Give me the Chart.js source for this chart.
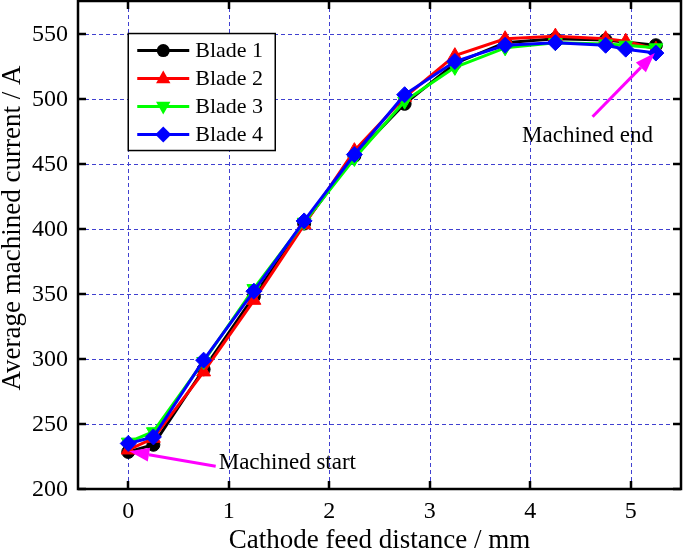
<!DOCTYPE html>
<html>
<head>
<meta charset="utf-8">
<script src="https://cdn.jsdelivr.net/npm/chart.js@4.4.1/dist/chart.umd.min.js"></script>
<style>
html,body{margin:0;padding:0;background:#fff;}
#wrap{width:685px;height:554px;position:relative;}
</style>
</head>
<body>
<div id="wrap"><canvas id="c" width="685" height="554"></canvas></div>
<script>
// ---- data ----
const seriesNames = ["Blade 1", "Blade 2", "Blade 3", "Blade 4"];
const xBlade1 = [0, 0.25, 0.75, 1.25, 1.75, 2.25, 2.75, 3.25, 3.75, 4.25, 4.75, 5.25];
const yBlade1 = [228.5, 234, 292, 348, 404, 456, 496, 527, 543, 546, 545, 541];
const xBlade2 = [0, 0.25, 0.75, 1.25, 1.75, 2.25, 2.75, 3.25, 3.75, 4.25, 4.75, 4.95, 5.25];
const yBlade2 = [230, 239, 290, 345, 403, 460, 501, 533, 546, 548, 546, 544, 538];
const xBlade3 = [0, 0.25, 0.75, 1.25, 1.75, 2.25, 2.75, 3.25, 3.75, 4.25, 4.75, 4.95, 5.25];
const yBlade3 = [236, 244, 298, 354, 405, 454, 498, 524, 539, 543, 542, 541, 539];
const xBlade4 = [0, 0.25, 0.75, 1.25, 1.75, 2.25, 2.75, 3.25, 3.75, 4.25, 4.75, 4.95, 5.25];
const yBlade4 = [235, 240, 299, 352, 406, 457, 503, 528.5, 541, 543, 541, 538, 535];
const xTickValues = [0, 1, 2, 3, 4, 5];
const yTickValues = [200, 250, 300, 350, 400, 450, 500, 550];
const xTitle = "Cathode feed distance / mm";
const yTitle = "Average machined current / A";
const noteStart = "Machined start";
const noteEnd = "Machined end";

// ---- styling ----
const SERIF = "'Liberation Serif','DejaVu Serif',serif";
const colors = ["#000000", "#ff0000", "#00ff00", "#0000ff"];
const styles = [
  {pointStyle: 'circle', radius: 6.5, rotation: 0},
  {pointStyle: 'triangle', radius: 8, rotation: 0},
  {pointStyle: 'triangle', radius: 8, rotation: 180},
  {pointStyle: 'rectRot', radius: 8, rotation: 0}
];
const xs = [xBlade1, xBlade2, xBlade3, xBlade4];
const ys = [yBlade1, yBlade2, yBlade3, yBlade4];

const datasets = seriesNames.map((name, i) => ({
  label: name,
  data: xs[i].map((x, k) => ({x: x, y: ys[i][k]})),
  borderColor: colors[i],
  backgroundColor: colors[i],
  pointBackgroundColor: colors[i],
  pointBorderColor: colors[i],
  borderWidth: 3,
  pointStyle: styles[i].pointStyle,
  pointRadius: styles[i].radius,
  pointRotation: styles[i].rotation,
  pointBorderWidth: 1,
  tension: 0,
  order: 3 - i
}));

function drawMarker(ctx, kind, x, y, r, color) {
  ctx.save();
  ctx.fillStyle = color;
  ctx.beginPath();
  if (kind === 0) {
    ctx.arc(x, y, r, 0, Math.PI * 2);
  } else if (kind === 1) {
    ctx.moveTo(x, y - r); ctx.lineTo(x + r * 0.9, y + r * 0.6); ctx.lineTo(x - r * 0.9, y + r * 0.6);
  } else if (kind === 2) {
    ctx.moveTo(x, y + r); ctx.lineTo(x + r * 0.9, y - r * 0.6); ctx.lineTo(x - r * 0.9, y - r * 0.6);
  } else {
    ctx.moveTo(x, y - r); ctx.lineTo(x + r, y); ctx.lineTo(x, y + r); ctx.lineTo(x - r, y);
  }
  ctx.closePath();
  ctx.fill();
  ctx.restore();
}

function arrow(ctx, x1, y1, x2, y2) {
  const ang = Math.atan2(y2 - y1, x2 - x1);
  const L = 20, W = 7;
  const bx = x2 - L * Math.cos(ang), by = y2 - L * Math.sin(ang);
  ctx.save();
  ctx.strokeStyle = "#ff00ff";
  ctx.fillStyle = "#ff00ff";
  ctx.lineWidth = 3;
  ctx.beginPath(); ctx.moveTo(x1, y1); ctx.lineTo(bx, by); ctx.stroke();
  ctx.beginPath();
  ctx.moveTo(x2, y2);
  ctx.lineTo(bx + W * Math.sin(ang), by - W * Math.cos(ang));
  ctx.lineTo(bx - W * Math.sin(ang), by + W * Math.cos(ang));
  ctx.closePath(); ctx.fill();
  ctx.restore();
}

const framePlugin = {
  id: 'frame',
  beforeDatasetsDraw(chart) {
    const ctx = chart.ctx, a = chart.chartArea, sx = chart.scales.x, sy = chart.scales.y;
    ctx.save();
    ctx.strokeStyle = "#4040d0";
    ctx.lineWidth = 1;
    ctx.setLineDash([4, 3]);
    xTickValues.forEach(v => {
      const p = Math.round(sx.getPixelForValue(v)) + 0.5;
      ctx.beginPath(); ctx.moveTo(p, a.top); ctx.lineTo(p, a.bottom); ctx.stroke();
    });
    yTickValues.forEach(v => {
      const p = Math.round(sy.getPixelForValue(v)) + 0.5;
      ctx.beginPath(); ctx.moveTo(a.left, p); ctx.lineTo(a.right, p); ctx.stroke();
    });
    ctx.restore();
  },
  afterDatasetsDraw(chart) {
    const ctx = chart.ctx, a = chart.chartArea, sx = chart.scales.x, sy = chart.scales.y;
    ctx.save();
    ctx.strokeStyle = "#000";
    ctx.lineWidth = 2.5;
    ctx.setLineDash([]);
    const T = 8;
    xTickValues.forEach(v => {
      const p = Math.round(sx.getPixelForValue(v));
      ctx.beginPath(); ctx.moveTo(p, a.bottom); ctx.lineTo(p, a.bottom - T); ctx.stroke();
      ctx.beginPath(); ctx.moveTo(p, a.top); ctx.lineTo(p, a.top + T); ctx.stroke();
    });
    yTickValues.forEach(v => {
      const p = Math.round(sy.getPixelForValue(v));
      ctx.beginPath(); ctx.moveTo(a.left, p); ctx.lineTo(a.left + T, p); ctx.stroke();
      ctx.beginPath(); ctx.moveTo(a.right, p); ctx.lineTo(a.right - T, p); ctx.stroke();
    });
    ctx.strokeRect(a.left, a.top, a.right - a.left, a.bottom - a.top);
    ctx.restore();
  },
  afterDraw(chart) {
    const ctx = chart.ctx, a = chart.chartArea, sx = chart.scales.x, sy = chart.scales.y;
    ctx.save();
    ctx.fillStyle = "#000";
    // tick labels
    ctx.font = "24px " + SERIF;
    ctx.textBaseline = "middle";
    ctx.textAlign = "right";
    yTickValues.forEach(v => ctx.fillText(String(v), a.left - 10, sy.getPixelForValue(v) + 1));
    ctx.textAlign = "center";
    xTickValues.forEach(v => ctx.fillText(String(v), sx.getPixelForValue(v), a.bottom + 23));

    // axis titles
    ctx.font = "27px " + SERIF;
    ctx.textAlign = "center";
    ctx.fillText(xTitle, (a.left + a.right) / 2, 541);
    ctx.save();
    ctx.translate(13, 228);
    ctx.rotate(-Math.PI / 2);
    ctx.fillText(yTitle, 0, 0);
    ctx.restore();

    // legend
    const lx = sx.getPixelForValue(0), ly = sy.getPixelForValue(550);
    const bw = 147, bh = 117;
    ctx.fillStyle = "#fff";
    ctx.fillRect(lx, ly, bw, bh);
    ctx.strokeStyle = "#000";
    ctx.lineWidth = 1.5;
    ctx.strokeRect(lx, ly, bw, bh);
    ctx.font = "22px " + SERIF;
    ctx.textAlign = "left";
    seriesNames.forEach((name, i) => {
      const yy = ly + 17 + i * 28;
      ctx.strokeStyle = colors[i];
      ctx.lineWidth = 3;
      ctx.beginPath(); ctx.moveTo(lx + 9, yy); ctx.lineTo(lx + 61, yy); ctx.stroke();
      drawMarker(ctx, i, lx + 35, yy, i === 0 ? 6.5 : 8, colors[i]);
      ctx.fillStyle = "#000";
      ctx.fillText(name, lx + 67, yy + 1);
    });

    // annotations
    ctx.font = "23px " + SERIF;
    ctx.fillStyle = "#000";
    ctx.textAlign = "left";
    ctx.fillText(noteStart, sx.getPixelForValue(0.9), sy.getPixelForValue(220));
    arrow(ctx, sx.getPixelForValue(0.87), sy.getPixelForValue(217.5), sx.getPixelForValue(0.01), sy.getPixelForValue(229));
    ctx.textAlign = "center";
    ctx.fillStyle = "#000";
    ctx.fillText(noteEnd, sx.getPixelForValue(4.57), sy.getPixelForValue(471));
    arrow(ctx, sx.getPixelForValue(4.62), sy.getPixelForValue(486), sx.getPixelForValue(5.24), sy.getPixelForValue(535));
    ctx.restore();
  }
};

new Chart(document.getElementById('c'), {
  type: 'line',
  data: {datasets: datasets},
  options: {
    responsive: false,
    animation: false,
    devicePixelRatio: 1,
    layout: {autoPadding: false, padding: {top: 1, right: 4, left: 0, bottom: 0}},
    plugins: {legend: {display: false}, tooltip: {enabled: false}},
    scales: {
      x: {
        type: 'linear', min: -0.5, max: 5.5,
        grid: {display: false, drawTicks: false},
        border: {display: false},
        ticks: {display: false},
        afterBuildTicks: s => { s.ticks = xTickValues.map(v => ({value: v})); },
        afterFit: s => { s.height = 65; s.paddingLeft = 0; s.paddingRight = 0; }
      },
      y: {
        type: 'linear', min: 200, max: 575,
        grid: {display: false, drawTicks: false},
        border: {display: false},
        ticks: {display: false},
        afterBuildTicks: s => { s.ticks = yTickValues.map(v => ({value: v})); },
        afterFit: s => { s.width = 78; s.paddingTop = 0; s.paddingBottom = 0; }
      }
    }
  },
  plugins: [framePlugin]
});
</script>
</body>
</html>
